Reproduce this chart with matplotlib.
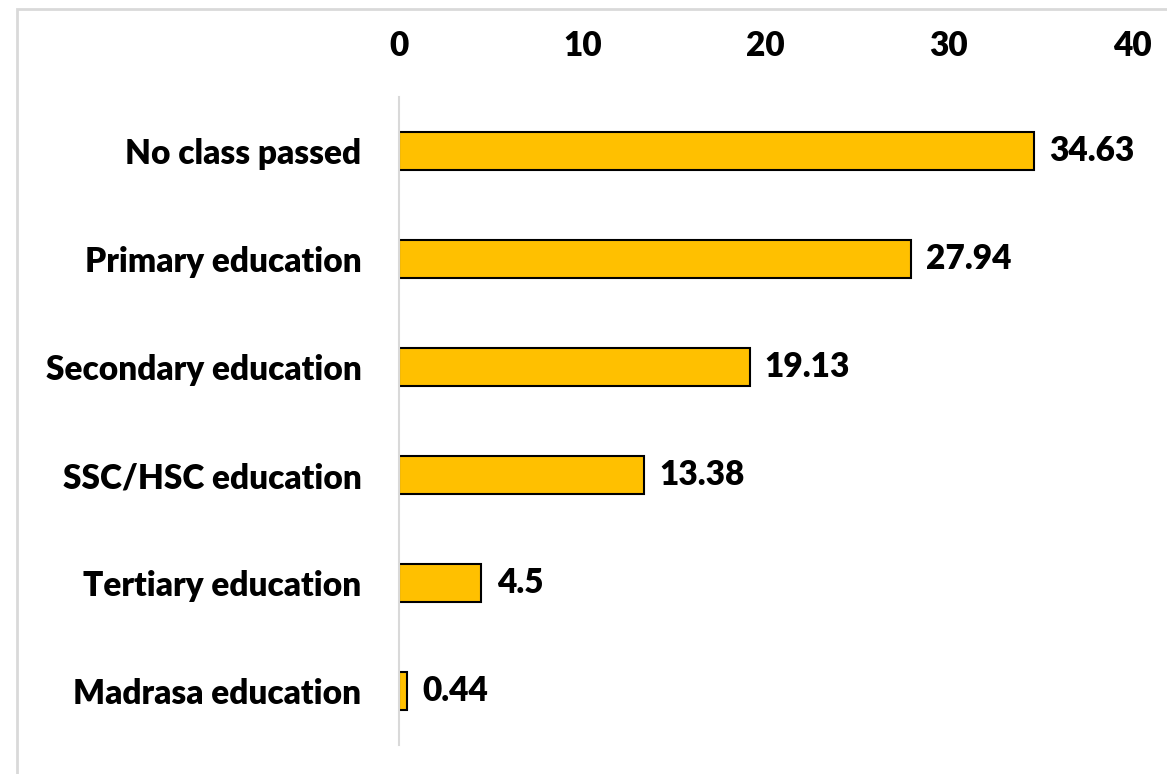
import matplotlib.pyplot as plt
from matplotlib.patches import Rectangle

categories = ['No class passed', 'Primary education', 'Secondary education',
              'SSC/HSC education', 'Tertiary education', 'Madrasa education']
values = [34.63, 27.94, 19.13, 13.38, 4.5, 0.44]
value_labels = ['34.63', '27.94', '19.13', '13.38', '4.5', '0.44']
xticks = [0, 10, 20, 30, 40]

plt.rcParams['font.family'] = ['Lato', 'DejaVu Sans']
FS = 24
FW = 'heavy'

fig = plt.figure(figsize=(11.67, 7.74), dpi=100)
ax = fig.add_axes([399/1167, 1 - 745/774, (1132 - 399)/1167, (745 - 97)/774])

pos = list(range(len(categories)))
ax.barh(pos, values, height=0.35, color='#FFC000', edgecolor='black', linewidth=1.5)

for p, v, lbl in zip(pos, values, value_labels):
    ax.annotate(lbl, (v, p), xytext=(11, 0), textcoords='offset points',
                va='center', ha='left', fontsize=FS, fontweight=FW)

ax.set_ylim(len(categories) - 0.5, -0.5)
ax.set_xlim(0, 40)
ax.set_yticks(pos)
ax.set_yticklabels(categories, fontsize=FS, fontweight=FW)
ax.set_xticks(xticks)
ax.set_xticklabels([str(t) for t in xticks], fontsize=FS, fontweight=FW)
ax.xaxis.tick_top()
ax.tick_params(axis='both', length=0)
ax.tick_params(axis='x', pad=25)
ax.tick_params(axis='y', pad=27)

for s in ['top', 'right', 'bottom']:
    ax.spines[s].set_visible(False)
ax.spines['left'].set_color('#d9d9d9')
ax.spines['left'].set_linewidth(1.5)

# thin frame round the chart area, running off the right and bottom edges
fig.patches.append(Rectangle((17/1167, -0.1), 1.0, 1.1 - 9/774,
                             transform=fig.transFigure, fill=False,
                             edgecolor='#d9d9d9', linewidth=2))

fig.savefig('out.png', dpi=100)
